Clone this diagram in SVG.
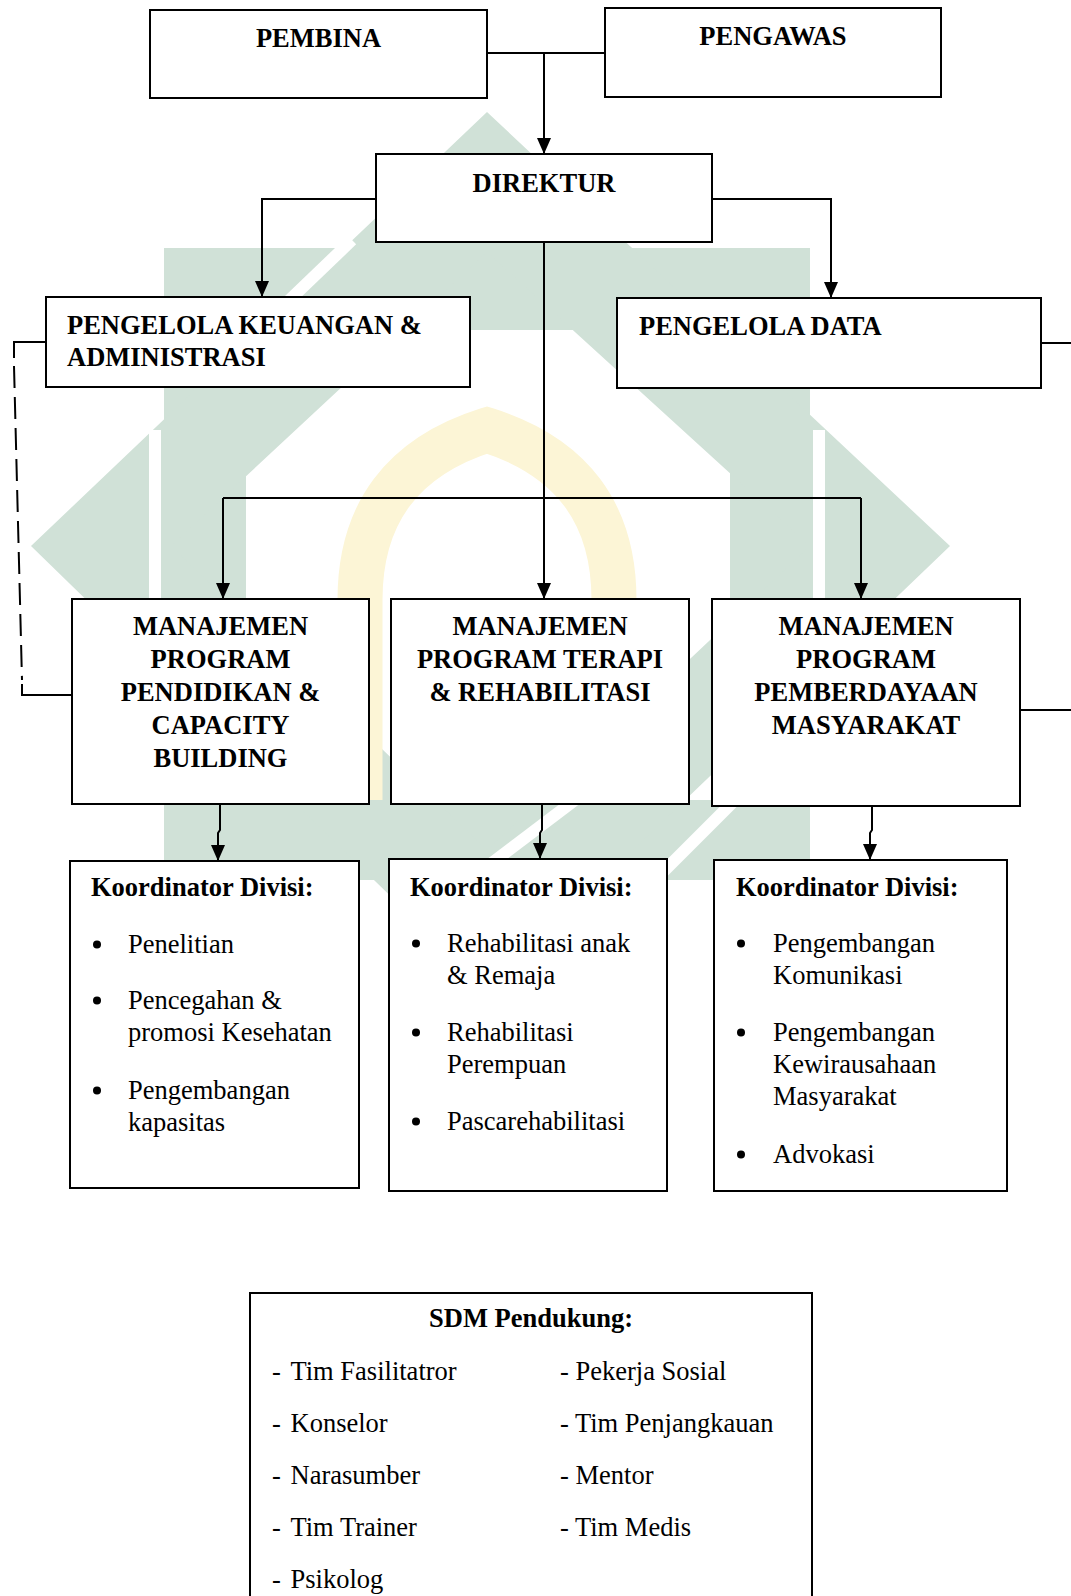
<svg xmlns="http://www.w3.org/2000/svg" width="1071" height="1596" viewBox="0 0 1071 1596">
  <style>
    .box { fill: #ffffff; stroke: #000000; stroke-width: 2; }
    .ln { fill: none; stroke: #000000; stroke-width: 2; }
    .dash { fill: none; stroke: #000000; stroke-width: 2; stroke-dasharray: 22 9; }
    .b { font-family: "Liberation Serif", "Times New Roman", serif; font-size: 26.5px; font-weight: bold; fill: #000; }
    .r { font-family: "Liberation Serif", "Times New Roman", serif; font-size: 26.5px; fill: #000; }
    .c { text-anchor: middle; }
    .wm { fill: #d0e1d7; }
    .gap { fill: none; stroke: #ffffff; stroke-width: 12; }
    .arch { fill: none; stroke: #fcf5d6; stroke-width: 45; }
  </style>
  <defs>
    <marker id="arr" markerUnits="userSpaceOnUse" markerWidth="16" markerHeight="14" viewBox="0 0 16 14" refX="16" refY="7" orient="auto">
      <path d="M0 0 L16 7 L0 14 Z" fill="#000"/>
    </marker>
  </defs>
  <rect width="1071" height="1596" fill="#ffffff"/>

  <g id="watermark">
    <path class="wm" fill-rule="evenodd" d="M164 248 H810 V880 H164 Z M246 330 V800 H730 V330 Z"/>
    <path class="wm" fill-rule="evenodd" d="M487 112 L950 546 L487 990 L31 546 Z M487 252 L810 546 L487 850 L171 546 Z"/>
    <path class="gap" d="M352 240 L252 336"/>
    <path class="gap" d="M155 430 V660"/>
    <path class="gap" d="M819 430 V660"/>
    <path class="gap" d="M735 800 L640 895"/>
    <path class="gap" d="M575 800 L390 940"/>
    <path class="arch" d="M360 800 V600 Q360 470 487 430 Q614 470 614 600 V800"/>
  </g>

  <g id="connectors">
    <path class="ln" d="M487 53 H605"/>
    <path class="ln" d="M544 53 V154" marker-end="url(#arr)"/>
    <path class="ln" d="M376 199 H262 V297" marker-end="url(#arr)"/>
    <path class="ln" d="M712 199 H831 V298" marker-end="url(#arr)"/>
    <path class="ln" d="M544 242 V599" marker-end="url(#arr)"/>
    <path class="ln" d="M223 498 H861"/>
    <path class="ln" d="M223 498 V599" marker-end="url(#arr)"/>
    <path class="ln" d="M861 498 V599" marker-end="url(#arr)"/>
    <path class="ln" d="M46 342 H14 V358"/>
    <path class="dash" d="M14 366 L22 680"/>
    <path class="ln" d="M22 684 V695 H72"/>
    <path class="ln" d="M1041 343 H1071"/>
    <path class="ln" d="M1020 710 H1071"/>
    <path class="ln" d="M220 804 V830 L218 833 V861" marker-end="url(#arr)"/>
    <path class="ln" d="M542 804 V830 L540 833 V859" marker-end="url(#arr)"/>
    <path class="ln" d="M872 806 V830 L870 833 V860" marker-end="url(#arr)"/>
  </g>

  <g id="pembina">
    <rect class="box" x="150" y="10" width="337" height="88"/>
    <text class="b c" x="318.5" y="47">PEMBINA</text>
  </g>
  <g id="pengawas">
    <rect class="box" x="605" y="8" width="336" height="89"/>
    <text class="b c" x="773" y="45">PENGAWAS</text>
  </g>
  <g id="direktur">
    <rect class="box" x="376" y="154" width="336" height="88"/>
    <text class="b c" x="544" y="192">DIREKTUR</text>
  </g>
  <g id="keuangan">
    <rect class="box" x="46" y="297" width="424" height="90"/>
    <text class="b" x="67" y="334">PENGELOLA KEUANGAN &amp;</text>
    <text class="b" x="67" y="366">ADMINISTRASI</text>
  </g>
  <g id="data">
    <rect class="box" x="617" y="298" width="424" height="90"/>
    <text class="b" x="639" y="335">PENGELOLA DATA</text>
  </g>

  <g id="mp-pendidikan">
    <rect class="box" x="72" y="599" width="297" height="205"/>
    <text class="b c" x="220.5" y="635">MANAJEMEN</text>
    <text class="b c" x="220.5" y="668">PROGRAM</text>
    <text class="b c" x="220.5" y="701">PENDIDIKAN &amp;</text>
    <text class="b c" x="220.5" y="734">CAPACITY</text>
    <text class="b c" x="220.5" y="767">BUILDING</text>
  </g>
  <g id="mp-terapi">
    <rect class="box" x="391" y="599" width="298" height="205"/>
    <text class="b c" x="540" y="635">MANAJEMEN</text>
    <text class="b c" x="540" y="668">PROGRAM TERAPI</text>
    <text class="b c" x="540" y="701">&amp; REHABILITASI</text>
  </g>
  <g id="mp-pemberdayaan">
    <rect class="box" x="712" y="599" width="308" height="207"/>
    <text class="b c" x="866" y="635">MANAJEMEN</text>
    <text class="b c" x="866" y="668">PROGRAM</text>
    <text class="b c" x="866" y="701">PEMBERDAYAAN</text>
    <text class="b c" x="866" y="734">MASYARAKAT</text>
  </g>

  <g id="koord-1">
    <rect class="box" x="70" y="861" width="289" height="327"/>
    <text class="b" x="91" y="896">Koordinator Divisi:</text>
    <circle cx="97" cy="944.5" r="4"/>
    <text class="r" x="128" y="953">Penelitian</text>
    <circle cx="97" cy="1000.5" r="4"/>
    <text class="r" x="128" y="1009">Pencegahan &amp;</text>
    <text class="r" x="128" y="1041">promosi Kesehatan</text>
    <circle cx="97" cy="1090.5" r="4"/>
    <text class="r" x="128" y="1099">Pengembangan</text>
    <text class="r" x="128" y="1131">kapasitas</text>
  </g>
  <g id="koord-2">
    <rect class="box" x="389" y="859" width="278" height="332"/>
    <text class="b" x="410" y="896">Koordinator Divisi:</text>
    <circle cx="416" cy="943.5" r="4"/>
    <text class="r" x="447" y="952">Rehabilitasi anak</text>
    <text class="r" x="447" y="984">&amp; Remaja</text>
    <circle cx="416" cy="1032.5" r="4"/>
    <text class="r" x="447" y="1041">Rehabilitasi</text>
    <text class="r" x="447" y="1073">Perempuan</text>
    <circle cx="416" cy="1121.5" r="4"/>
    <text class="r" x="447" y="1130">Pascarehabilitasi</text>
  </g>
  <g id="koord-3">
    <rect class="box" x="714" y="860" width="293" height="331"/>
    <text class="b" x="736" y="896">Koordinator Divisi:</text>
    <circle cx="741" cy="943.5" r="4"/>
    <text class="r" x="773" y="952">Pengembangan</text>
    <text class="r" x="773" y="984">Komunikasi</text>
    <circle cx="741" cy="1032.5" r="4"/>
    <text class="r" x="773" y="1041">Pengembangan</text>
    <text class="r" x="773" y="1073">Kewirausahaan</text>
    <text class="r" x="773" y="1105">Masyarakat</text>
    <circle cx="741" cy="1154.5" r="4"/>
    <text class="r" x="773" y="1163">Advokasi</text>
  </g>

  <g id="sdm">
    <rect class="box" x="250" y="1293" width="562" height="340"/>
    <text class="b c" x="531" y="1327">SDM Pendukung:</text>
    <text class="r" x="272" y="1380">-<tspan x="290.5">Tim Fasilitatror</tspan></text>
    <text class="r" x="272" y="1432">-<tspan x="290.5">Konselor</tspan></text>
    <text class="r" x="272" y="1484">-<tspan x="290.5">Narasumber</tspan></text>
    <text class="r" x="272" y="1536">-<tspan x="290.5">Tim Trainer</tspan></text>
    <text class="r" x="272" y="1588">-<tspan x="290.5">Psikolog</tspan></text>
    <text class="r" x="560" y="1380">- Pekerja Sosial</text>
    <text class="r" x="560" y="1432">- Tim Penjangkauan</text>
    <text class="r" x="560" y="1484">- Mentor</text>
    <text class="r" x="560" y="1536">- Tim Medis</text>
  </g>
</svg>
